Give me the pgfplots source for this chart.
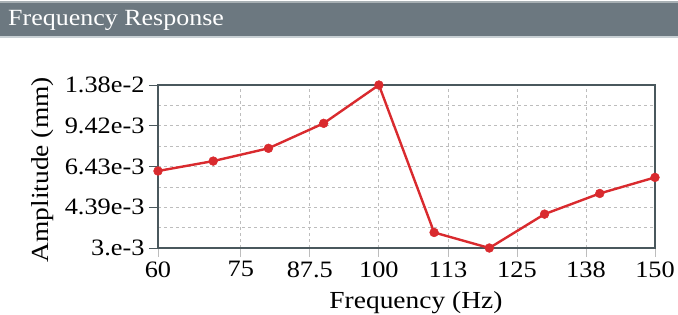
\documentclass[border=0pt]{standalone}
\usepackage{fontspec}
\setmainfont[FakeStretch=1.12]{Liberation Serif}
\usepackage{pgfplots}
\pgfplotsset{compat=1.18}
\definecolor{barc}{HTML}{6C7880}
\definecolor{barline}{HTML}{C8D0D4}
\definecolor{bartop}{HTML}{A8B0B4}
\definecolor{axisc}{HTML}{4A585D}
\definecolor{gridc}{HTML}{BDBDBD}
\definecolor{linec}{HTML}{D92A2E}
\begin{document}
\begin{tikzpicture}[x=1pt,y=1pt]
\useasboundingbox (0,0) rectangle (678,314);
\fill[barc] (0,277) rectangle (678,312);
\fill[bartop] (0,311) rectangle (678,312.5);
\fill[barline] (0,275.5) rectangle (678,277.5);
\node[anchor=base west, text=white, inner sep=0pt, font=\fontsize{23.2}{27}\selectfont] at (8,288) {Frequency Response};
\begin{axis}[
  at={(158pt,66pt)}, anchor=south west,
  scale only axis, width=497pt, height=163pt,
  xmin=60, xmax=150,
  ymode=log, ymin=3e-3, ymax=1.38e-2,
  xtick={60,75,87.5,100,112.5,125,137.5,150},
  xticklabels={60,75,87.5,100,113,125,138,150},
  ytick={3e-3,4.39e-3,6.43e-3,9.42e-3,1.38e-2},
  yticklabels={3.e-3,4.39e-3,6.43e-3,9.42e-3,1.38e-2},
  minor ytick={3.629e-3,5.313e-3,7.783e-3,1.140e-2},
  minor tick length=0pt,
  major tick length=9pt,
  tick align=outside,
  xtick pos=bottom, ytick pos=left,
  xtick style={draw=gridc, line width=0.8pt},
  ytick style={draw=axisc, line width=1pt},
  grid=both,
  major grid style={draw=gridc, dashed, line width=0.8pt},
  minor grid style={draw=gridc, dashed, line width=0.8pt},
  axis line style={draw=axisc, line width=1.4pt},
  tick label style={font=\fontsize{23.5}{27}\selectfont, text=black},
  /pgf/number format/assume math mode=true,
  xticklabel style={yshift=-1pt},
  yticklabel style={xshift=-1pt},
  xlabel={Frequency (Hz)},
  ylabel={Amplitude (mm)},
  label style={font=\fontsize{24.5}{28}\selectfont},
  xlabel style={at={(axis description cs:0.519,0)}, anchor=base, yshift=-60pt},
  ylabel style={at={(axis description cs:-0.232,0.48)}, anchor=center, rotate=0},
  clip=false,
  axis on top=false,
]
\addplot[color=linec, line width=2.4pt, mark=*, mark size=4.4pt, mark options={fill=linec, draw=linec, line width=0.5pt}]
  coordinates {
  (60,6.17e-3) (70,6.77e-3) (80,7.63e-3) (90,9.64e-3) (100,1.38e-2)
  (110,3.47e-3) (120,3.0e-3) (130,4.12e-3) (140,5.0e-3) (150,5.81e-3)
  };
\end{axis}
\end{tikzpicture}
\end{document}
